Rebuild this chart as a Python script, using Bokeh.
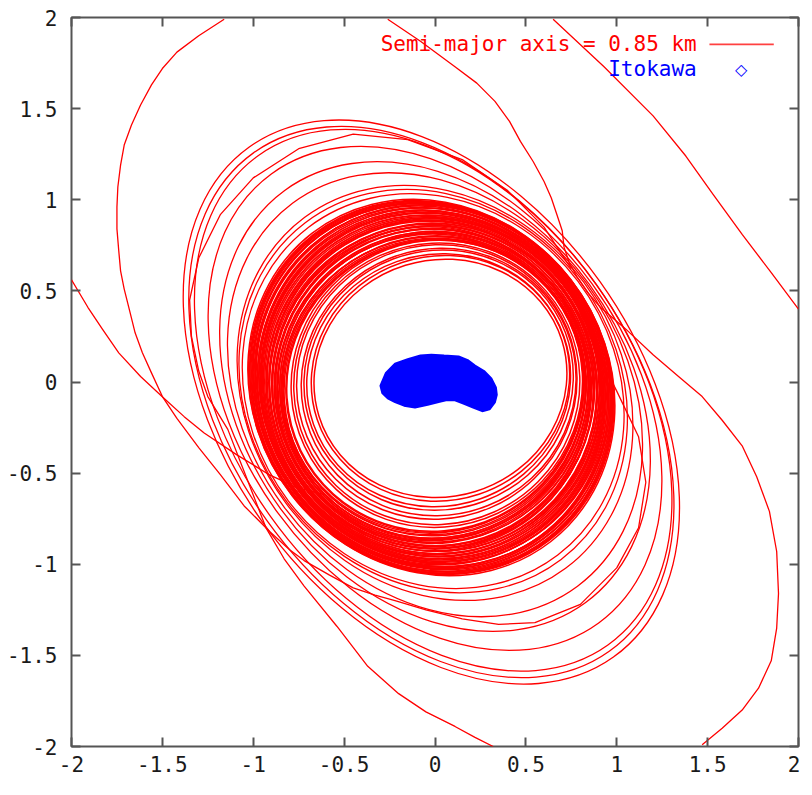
from bokeh.plotting import figure
from bokeh.models import (ColumnDataSource, FixedTicker, LinearAxis, Label,
                          BoxAnnotation, Range1d)
from bokeh.embed import file_html
from bokeh.resources import INLINE

# ---------------- data ----------------
tick_values = [-2, -1.5, -1, -0.5, 0, 0.5, 1, 1.5, 2]
tick_labels = ["-2", "-1.5", "-1", "-0.5", "0", "0.5", "1", "1.5", "2"]

# band of orbit loops (ellipses: centre, full width/height, tilt in rad)
band_cx = [0.03, 0.03, 0.02, 0.02, 0.02, 0.01, 0.01, 0.01,
           0.00, 0.00, -0.01, 0.00, -0.01, -0.01, 0.00, -0.01, -0.02, -0.01,
           0.00, -0.01, -0.02, -0.01, -0.01, 0.00, -0.02, -0.01, -0.01, -0.02,
           0.00, -0.01, -0.01, -0.02, -0.01, 0.00, -0.01, -0.02, -0.01, -0.01,
           -0.02, -0.01, -0.01, -0.02, -0.01, -0.02, -0.01, -0.01, -0.02, -0.01,
           -0.02, -0.01, -0.02, -0.02, -0.01, -0.02, -0.02, -0.02, -0.02, -0.02]
band_cy = [0.02, 0.02, 0.01, 0.01, 0.00, 0.00, -0.01, -0.01,
           -0.02, -0.02, -0.02, -0.03, -0.02, -0.03, -0.03, -0.02, -0.03, -0.02,
           -0.03, -0.03, -0.02, -0.03, -0.03, -0.02, -0.03, -0.03, -0.02, -0.03,
           -0.03, -0.02, -0.03, -0.03, -0.02, -0.03, -0.03, -0.02, -0.03, -0.03,
           -0.02, -0.03, -0.03, -0.02, -0.03, -0.03, -0.02, -0.03, -0.03, -0.02,
           -0.03, -0.03, -0.02, -0.03, -0.03, -0.03, -0.03, -0.03, -0.03, -0.03]
band_w = [1.40, 1.43, 1.46, 1.49, 1.52, 1.55, 1.58, 1.61,
          1.64, 1.65, 1.66, 1.67, 1.67, 1.68, 1.69, 1.69, 1.70, 1.71,
          1.71, 1.72, 1.73, 1.73, 1.74, 1.75, 1.75, 1.76, 1.77, 1.77,
          1.78, 1.79, 1.79, 1.80, 1.81, 1.81, 1.82, 1.83, 1.83, 1.84,
          1.85, 1.85, 1.86, 1.86, 1.87, 1.88, 1.88, 1.89, 1.89, 1.90,
          1.90, 1.91, 1.91, 1.92, 1.92, 1.92, 1.93, 1.93, 1.94, 1.94]
band_h = [1.30, 1.34, 1.38, 1.42, 1.46, 1.50, 1.54, 1.57,
          1.59, 1.60, 1.61, 1.62, 1.63, 1.65, 1.66, 1.67, 1.68, 1.69,
          1.70, 1.71, 1.72, 1.74, 1.75, 1.76, 1.77, 1.78, 1.79, 1.80,
          1.81, 1.83, 1.84, 1.85, 1.86, 1.87, 1.88, 1.89, 1.90, 1.92,
          1.93, 1.94, 1.95, 1.96, 1.97, 1.98, 1.99, 2.01, 2.02, 2.03,
          2.04, 2.05, 2.06, 2.07, 2.08, 2.09, 2.10, 2.11, 2.12, 2.14]
band_angle = [0.30, 0.32, 0.34, 0.36, 0.38, 0.40, 0.42, 0.44,
              0.45, 0.45, 0.46, 0.46, 0.47, 0.47, 0.48, 0.48, 0.49, 0.49,
              0.50, 0.50, 0.51, 0.51, 0.52, 0.52, 0.53, 0.53, 0.54, 0.54,
              0.55, 0.55, 0.56, 0.56, 0.57, 0.57, 0.58, 0.58, 0.59, 0.59,
              0.60, 0.60, 0.60, 0.61, 0.61, 0.61, 0.62, 0.62, 0.62, 0.63,
              0.63, 0.63, 0.64, 0.64, 0.64, 0.65, 0.65, 0.65, 0.66, 0.66]

# wider loops outside the band
wide_cx = [-0.01, -0.01, 0.00, 0.00, 0.00, 0.00, -0.01, -0.02, -0.02]
wide_cy = [-0.05, -0.05, -0.06, -0.07, -0.08, -0.09, -0.10, -0.11, -0.11]
wide_w = [2.00, 2.02, 2.04, 2.07, 2.10, 2.14, 2.20, 2.23, 2.28]
wide_h = [2.26, 2.32, 2.40, 2.62, 2.80, 3.05, 3.30, 3.36, 3.44]
wide_angle = [0.65, 0.65, 0.64, 0.64, 0.63, 0.63, 0.62, 0.62, 0.62]

# open arcs of the trajectory
arc_a_x = [-1.16, -1.30, -1.42, -1.50, -1.56, -1.62, -1.67, -1.71, -1.73, -1.745,
           -1.75, -1.75, -1.74, -1.73, -1.71, -1.68, -1.65, -1.61, -1.56, -1.50,
           -1.42, -1.30, -1.18, -1.05, -0.91, -0.80, -0.72, -0.58, -0.45, -0.33,
           -0.22, -0.05, 0.15, 0.35, 0.55, 0.80, 1.00, 1.12, 1.16, 1.12,
           1.00, 0.85, 0.75]
arc_a_y = [1.99, 1.90, 1.81, 1.72, 1.63, 1.52, 1.41, 1.30, 1.19, 1.07,
           0.96, 0.84, 0.72, 0.61, 0.51, 0.39, 0.27, 0.16, 0.05, -0.08,
           -0.20, -0.36, -0.51, -0.68, -0.82, -0.92, -0.98, -1.06, -1.13, -1.17,
           -1.20, -1.25, -1.30, -1.33, -1.32, -1.22, -1.02, -0.80, -0.55, -0.30,
           -0.05, 0.25, 0.50]
arc_l_x = [-2.00, -1.91, -1.83, -1.74, -1.62, -1.49, -1.38, -1.27, -1.09, -0.91,
           -0.76, -0.60]
arc_l_y = [0.56, 0.41, 0.29, 0.16, 0.03, -0.09, -0.19, -0.28, -0.40, -0.51,
           -0.58, -0.62]
arc_r_x = [0.75, 0.60, 0.40, 0.15, -0.15, -0.45, -0.75, -1.00, -1.18, -1.30,
           -1.35, -1.34, -1.30, -1.25, -1.14, -1.07, -1.00, -0.93, -0.83, -0.72,
           -0.54, -0.37, -0.20, -0.05, 0.11, 0.22, 0.32]
arc_r_y = [0.62, 0.85, 1.05, 1.22, 1.33, 1.36, 1.28, 1.12, 0.92, 0.68,
           0.45, 0.25, 0.06, -0.08, -0.26, -0.44, -0.62, -0.80, -0.97, -1.12,
           -1.34, -1.56, -1.71, -1.81, -1.89, -1.95, -2.00]
arc_b_x = [-0.26, -0.08, 0.11, 0.23, 0.33, 0.41, 0.47, 0.54, 0.60, 0.64,
           0.67, 0.70, 0.71, 0.74, 0.78, 0.84, 0.91, 1.05, 1.20, 1.34,
           1.47, 1.58, 1.69, 1.77, 1.84, 1.88, 1.89, 1.88, 1.85, 1.78,
           1.69, 1.58, 1.47]
arc_b_y = [1.99, 1.87, 1.73, 1.64, 1.54, 1.43, 1.32, 1.21, 1.10, 1.01,
           0.92, 0.83, 0.74, 0.65, 0.58, 0.49, 0.41, 0.29, 0.15, 0.03,
           -0.08, -0.21, -0.35, -0.52, -0.71, -0.93, -1.16, -1.35, -1.53, -1.68,
           -1.80, -1.90, -1.99]
arc_d_x = [0.65, 0.93, 1.20, 1.38, 1.53, 1.69, 1.85, 2.00]
arc_d_y = [1.99, 1.73, 1.46, 1.24, 1.03, 0.81, 0.60, 0.40]

# Itokawa outline
itokawa_x = [-0.30, -0.27, -0.22, -0.15, -0.08, -0.02, 0.05, 0.13, 0.18, 0.22,
             0.27, 0.31, 0.335, 0.34, 0.33, 0.30, 0.26, 0.21, 0.16, 0.11,
             0.06, 0.02, -0.04, -0.11, -0.17, -0.22, -0.26, -0.29]
itokawa_y = [-0.02, 0.05, 0.10, 0.125, 0.145, 0.15, 0.145, 0.14, 0.12, 0.09,
             0.06, 0.02, -0.03, -0.07, -0.11, -0.15, -0.16, -0.14, -0.12, -0.10,
             -0.10, -0.11, -0.125, -0.14, -0.13, -0.11, -0.09, -0.06]

orbit_label = "Semi-major axis = 0.85 km"
body_label = "Itokawa"

# ---------------- figure ----------------
RED = "#ff0000"
BLUE = "#0000ff"
FRAME = "#555555"
MONO = "DejaVu Sans Mono"
FONT_PX = "21px"

p = figure(width=800, height=779, x_range=Range1d(-2, 2), y_range=Range1d(-2, 2),
           output_backend="svg", toolbar_location=None,
           min_border_left=71, min_border_right=2, min_border_top=17,
           min_border_bottom=33)
p.background_fill_color = "white"
p.border_fill_color = "white"
p.grid.visible = False
p.outline_line_color = FRAME
p.outline_line_width = 2
p.outline_line_alpha = 1.0

overrides = {v: s for v, s in zip(tick_values, tick_labels)}
for ax, standoff in ((p.xaxis[0], 9), (p.yaxis[0], 14)):
    ax.ticker = FixedTicker(ticks=tick_values)
    ax.major_label_overrides = overrides
    ax.axis_line_color = None
    ax.major_tick_in = 9
    ax.major_tick_out = 0
    ax.major_tick_line_color = FRAME
    ax.major_tick_line_width = 2
    ax.minor_tick_line_color = None
    ax.major_label_text_font = MONO
    ax.major_label_text_font_size = FONT_PX
    ax.major_label_text_color = "#1a1a1a"
    ax.major_label_standoff = standoff

for side in ("above", "right"):
    ax = LinearAxis(ticker=FixedTicker(ticks=tick_values),
                    axis_line_color=None, major_tick_in=9, major_tick_out=0,
                    major_tick_line_color=FRAME, major_tick_line_width=2,
                    minor_tick_line_color=None, major_label_text_font_size="0px",
                    major_label_text_color=None, major_label_standoff=0)
    p.add_layout(ax, side)

band = ColumnDataSource(dict(x=band_cx, y=band_cy, w=band_w, h=band_h, a=band_angle))
wide = ColumnDataSource(dict(x=wide_cx, y=wide_cy, w=wide_w, h=wide_h, a=wide_angle))

p.ellipse(x="x", y="y", width="w", height="h", angle="a", source=wide,
          fill_color=None, line_color=RED, line_width=1.3)
p.ellipse(x="x", y="y", width="w", height="h", angle="a", source=band,
          fill_color=None, line_color=RED, line_width=1.5)

for xs, ys in ((arc_a_x, arc_a_y), (arc_l_x, arc_l_y), (arc_r_x, arc_r_y),
               (arc_b_x, arc_b_y), (arc_d_x, arc_d_y)):
    p.line(xs, ys, line_color=RED, line_width=1.3, line_join="round")

p.patch(itokawa_x, itokawa_y, fill_color=BLUE, line_color=BLUE, line_width=2)

# ---------------- key (gnuplot style: text then sample) ----------------
p.add_layout(Label(x=1.44, y=1.853, text=orbit_label, text_align="right",
                   text_baseline="middle", text_font=MONO, text_font_size=FONT_PX,
                   text_color=RED))
p.add_layout(BoxAnnotation(left=1.51, right=1.864, bottom=1.848, top=1.857,
                           fill_color=RED, fill_alpha=0.75, line_color=None))
p.add_layout(Label(x=1.44, y=1.716, text=body_label, text_align="right",
                   text_baseline="middle", text_font=MONO, text_font_size=FONT_PX,
                   text_color=BLUE))
p.add_layout(Label(x=1.684, y=1.716, text="\u25c7", text_align="center",
                   text_baseline="middle", text_font="DejaVu Sans",
                   text_font_size="16px", text_font_style="bold",
                   text_color=BLUE))

open("out.html", "w").write(file_html(p, INLINE))
